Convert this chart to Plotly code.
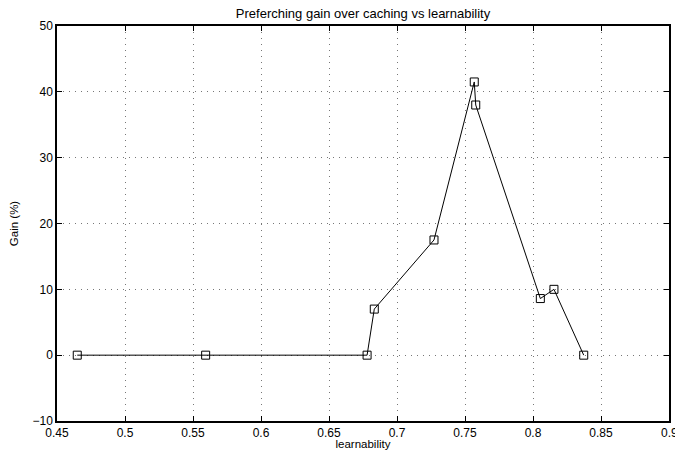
import plotly.graph_objects as go

learnability = [0.4649, 0.5593, 0.678, 0.6833, 0.7272, 0.7568, 0.7579, 0.8054, 0.8154, 0.8373]
gain = [0.0, 0.0, 0.0, 7.0, 17.5, 41.5, 38.0, 8.6, 10.0, 0.0]

x_ticks = [0.45, 0.5, 0.55, 0.6, 0.65, 0.7, 0.75, 0.8, 0.85, 0.9]
x_labels = ["0.45", "0.5", "0.55", "0.6", "0.65", "0.7", "0.75", "0.8", "0.85", "0.9"]
y_ticks = [-10, 0, 10, 20, 30, 40, 50]
y_labels = ["\u221210", "0", "10", "20", "30", "40", "50"]

font_family = "Liberation Sans, Arial, Helvetica, sans-serif"

fig = go.Figure()
fig.add_trace(go.Scatter(
    x=learnability, y=gain, mode="lines+markers",
    line=dict(color="black", width=1),
    marker=dict(symbol="square-open", size=8, color="black", line=dict(width=1)),
    showlegend=False,
))

fig.update_layout(
    width=675, height=450,
    margin=dict(l=57, r=6, t=26, b=29),
    paper_bgcolor="white", plot_bgcolor="white",
    font=dict(family=font_family, size=12, color="black"),
    title=dict(text="Preferching gain over caching vs learnability",
               x=0.5, xanchor="center", xref="paper",
               y=1, yref="paper", yanchor="bottom", pad=dict(b=8),
               font=dict(size=13, color="black")),
)
fig.update_xaxes(
    range=[0.45, 0.9], tickvals=x_ticks[:-1], ticktext=x_labels[:-1],
    showline=True, linecolor="black", linewidth=1.5, mirror="allticks",
    ticks="inside", ticklen=5, tickcolor="black",
    showgrid=True, gridcolor="#777777", griddash="1px,5px", gridwidth=1,
    zeroline=False, automargin=False,
    title=dict(text="learnability", font=dict(size=11.5), standoff=13),
)
fig.update_yaxes(
    range=[-10, 50], tickvals=y_ticks, ticktext=y_labels,
    showline=True, linecolor="black", linewidth=1.5, mirror="allticks",
    ticks="inside", ticklen=5, tickcolor="black",
    showgrid=True, gridcolor="#777777", griddash="1px,5px", gridwidth=1,
    zeroline=False, automargin=False,
    title=dict(text="Gain (%)", font=dict(size=11.5), standoff=11),
)
# last x tick label sits at the right edge (partly clipped in the reference)
fig.add_annotation(x=x_ticks[-1], xref="x", y=0, yref="paper",
                   text=x_labels[-1], showarrow=False,
                   xanchor="center", yanchor="top", yshift=-3,
                   font=dict(size=12, color="black"))

fig.write_html("out.html", config={"displayModeBar": False},
               post_script="document.body.style.margin='0';document.body.style.overflow='hidden';")
